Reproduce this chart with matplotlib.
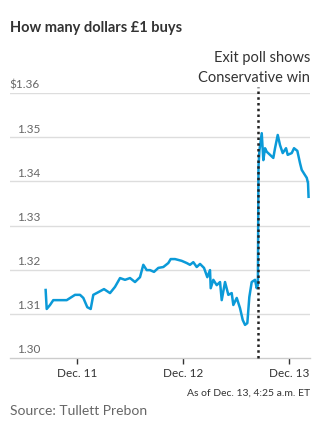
import matplotlib
matplotlib.use("Agg")
import matplotlib.pyplot as plt
import matplotlib.transforms as mtransforms

# hours since Dec. 11, 00:00 ET
hours = [-7.1, -6.86, -6.11, -5.37, -2.33, -0.45, 0.68, 1.43, 2.33, 3.10,
         3.69, 4.82, 6.11, 7.47, 8.6, 9.74, 10.87, 12.0, 13.13, 14.26,
         15.01, 15.78, 16.53, 17.43, 18.41, 19.54, 20.67, 21.21, 22.19, 23.70,
         24.84, 25.58, 26.33, 27.10, 27.85, 28.75, 29.50, 30.11, 30.27, 30.86,
         31.63, 32.38, 32.76, 33.51, 34.26, 35.02, 35.39, 36.16, 36.90, 37.52,
         38.04, 38.56, 39.01, 39.55, 40.30, 40.68, 40.95, 41.08, 41.3, 41.82,
         42.18, 42.56, 42.95, 43.7, 44.44, 44.83, 45.44, 45.96, 46.57, 47.32,
         47.70, 48.61, 49.13, 49.88, 50.49, 50.87, 51.62, 52.01, 52.3, 52.42]
usd_per_gbp = [1.3154, 1.3111, 1.3120, 1.3131, 1.3131, 1.3143, 1.3143, 1.3136, 1.3115, 1.3111,
               1.3143, 1.3149, 1.3156, 1.3147, 1.3161, 1.3181, 1.3177, 1.3181, 1.3172, 1.3183,
               1.3211, 1.3199, 1.3199, 1.3195, 1.3204, 1.3206, 1.3215, 1.3224, 1.3224, 1.3220,
               1.3215, 1.3211, 1.3217, 1.3206, 1.3213, 1.3204, 1.3183, 1.3199, 1.3158, 1.3177,
               1.3165, 1.3172, 1.3131, 1.3172, 1.3143, 1.3147, 1.3120, 1.3136, 1.3113, 1.3086,
               1.3075, 1.3079, 1.3138, 1.3172, 1.3177, 1.3158, 1.3165, 1.3433, 1.3470, 1.3509,
               1.3448, 1.3475, 1.3467, 1.3460, 1.3453, 1.3475, 1.3505, 1.3482, 1.3464, 1.3475,
               1.3460, 1.3464, 1.3475, 1.3469, 1.3441, 1.3426, 1.3414, 1.3408, 1.3396, 1.3365]

exit_poll_hour = 41.0
y_ticks = [1.30, 1.31, 1.32, 1.33, 1.34, 1.35, 1.36]
y_labels = ['1.30', '1.31', '1.32', '1.33', '1.34', '1.35', '$1.36']
x_ticks = [0, 24, 48]
x_labels = ['Dec. 11', 'Dec. 12', 'Dec. 13']

plt.rcParams['font.family'] = ['Lato', 'DejaVu Sans']

fig = plt.figure(figsize=(3.31, 4.29), dpi=100)
ax = fig.add_axes([0.0302, 0.1655, 0.9064, 0.6177])

ax.set_xlim(-15.17, 52.75)
ax.set_ylim(1.30, 1.36)

# grid
for v in y_ticks[1:]:
    ax.axhline(v, color='#dddddd', lw=1, zorder=1)
for s in ['top', 'right', 'left']:
    ax.spines[s].set_visible(False)
ax.spines['bottom'].set_color('#cccccc')
ax.spines['bottom'].set_linewidth(1)

ax.plot(hours, usd_per_gbp, color='#0b9ad8', lw=1.8, zorder=3)

ax.axvline(exit_poll_hour, ymin=0, ymax=1.022, color='#222222', lw=1.8,
           linestyle=(0, (1, 1.3)), clip_on=False, zorder=4)

ax.set_yticks([])
trans = mtransforms.blended_transform_factory(ax.transAxes, ax.transData)
for v, lab in zip(y_ticks, y_labels):
    ax.text(0.1, v + 0.0006, lab, transform=trans, ha='right', va='bottom',
            fontsize=8.5, color='#666666')

ax.set_xticks(x_ticks)
ax.set_xticklabels(x_labels, fontsize=8.5, color='#333333')
ax.tick_params(axis='x', length=4, width=1, color='#333333', pad=3)

fig.text(0.03, 0.934, 'How many dollars £1 buys', fontsize=10.5, fontweight='bold',
         color='#333333', ha='left', va='center')
fig.text(0.9366, 0.865, 'Exit poll shows', fontsize=10.5, color='#333333',
         ha='right', va='center')
fig.text(0.9366, 0.818, 'Conservative win', fontsize=10.5, color='#333333',
         ha='right', va='center')
fig.text(0.9366, 0.084, 'As of Dec. 13, 4:25 a.m. ET', fontsize=7.5, color='#333333',
         ha='right', va='center')
fig.text(0.03, 0.042, 'Source: Tullett Prebon', fontsize=10, color='#666666',
         ha='left', va='center')

fig.savefig('out.png', dpi=100)
